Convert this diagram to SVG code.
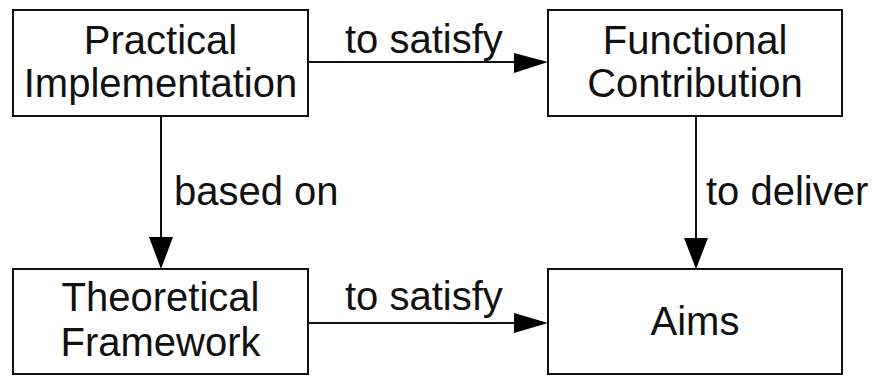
<svg xmlns="http://www.w3.org/2000/svg" width="872" height="376" viewBox="0 0 872 376">
  <defs>
    <style>
      .box { fill: #ffffff; stroke: #111111; stroke-width: 2; }
      .lbl { font-family: "Liberation Sans", Arial, sans-serif; font-size: 40px; fill: #111111; }
      .mid { text-anchor: middle; }
      .edge { stroke: #111111; stroke-width: 2; fill: none; }
      .head { fill: #000000; }
    </style>
  </defs>
  <rect width="872" height="376" fill="#ffffff"/>

  <g id="practical-implementation">
    <rect class="box" x="13" y="10" width="295" height="106"/>
    <text class="lbl mid" x="160.5" y="54">Practical</text>
    <text class="lbl mid" x="160.5" y="97">Implementation</text>
  </g>

  <g id="functional-contribution">
    <rect class="box" x="548" y="10" width="294" height="106"/>
    <text class="lbl mid" x="695" y="54">Functional</text>
    <text class="lbl mid" x="695" y="97">Contribution</text>
  </g>

  <g id="theoretical-framework">
    <rect class="box" x="13" y="269" width="295" height="105"/>
    <text class="lbl mid" x="160.5" y="311">Theoretical</text>
    <text class="lbl mid" x="160.5" y="356">Framework</text>
  </g>

  <g id="aims">
    <rect class="box" x="548" y="269" width="294" height="105"/>
    <text class="lbl mid" x="695" y="335">Aims</text>
  </g>

  <g id="connectors">
    <!-- Practical Implementation to Functional Contribution -->
    <line class="edge" x1="308" y1="62" x2="516" y2="62"/>
    <polygon class="head" points="514,53 548,62 514,73"/>
    <text class="lbl" x="345" y="53">to satisfy</text>

    <!-- Theoretical Framework to Aims -->
    <line class="edge" x1="308" y1="323" x2="516" y2="323"/>
    <polygon class="head" points="514,313 548,323 514,333"/>
    <text class="lbl" x="345" y="310">to satisfy</text>

    <!-- Practical Implementation to Theoretical Framework -->
    <line class="edge" x1="161" y1="116" x2="161" y2="240"/>
    <polygon class="head" points="149,237 173,237 161,269"/>
    <text class="lbl" x="174" y="205">based on</text>

    <!-- Functional Contribution to Aims -->
    <line class="edge" x1="696" y1="116" x2="696" y2="240"/>
    <polygon class="head" points="684,238 708,238 696,269"/>
    <text class="lbl" x="706" y="205">to deliver</text>
  </g>
</svg>
